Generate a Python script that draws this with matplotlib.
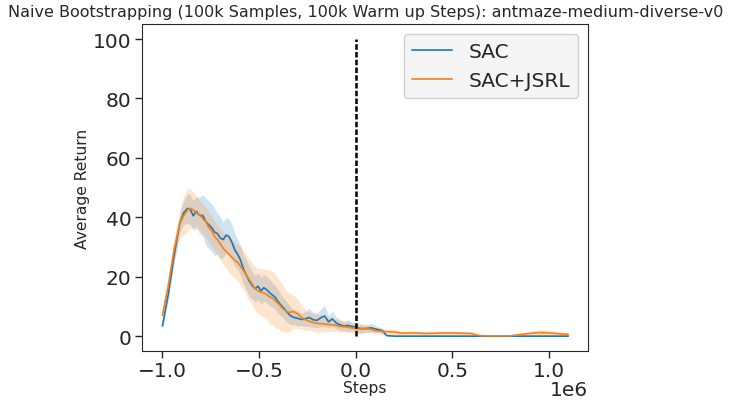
import numpy as np
import matplotlib
matplotlib.use("Agg")
import matplotlib.pyplot as plt

# steps in units of 1e6
steps = [-1.00, -0.97, -0.94, -0.91, -0.89, -0.87, -0.855, -0.84, -0.825, -0.81,
         -0.79, -0.775, -0.76, -0.745, -0.73, -0.715, -0.70, -0.685, -0.67, -0.655,
         -0.64, -0.625, -0.61, -0.595, -0.58, -0.565, -0.55, -0.535, -0.52, -0.505,
         -0.49, -0.475, -0.46, -0.445, -0.43, -0.415, -0.40, -0.38, -0.36, -0.34,
         -0.32, -0.30, -0.28, -0.26, -0.24, -0.22, -0.20, -0.18, -0.16, -0.14,
         -0.12, -0.10, -0.08, -0.06, -0.04, -0.02, 0.00, 0.02, 0.05, 0.08,
         0.11, 0.14, 0.16, 0.20, 0.24, 0.30, 0.36, 0.42, 0.48, 0.54,
         0.60, 0.64, 0.68, 0.74, 0.80, 0.86, 0.90, 0.95, 1.00, 1.05, 1.10]

sac_mean = [3.5, 14, 27, 38, 41.5, 43, 42.5, 40.5, 42, 40.8,
            40.5, 38.5, 37.5, 36.5, 35, 34.5, 33, 32.5, 34, 33.5,
            31.5, 29, 27.5, 25.5, 22.5, 20.5, 18.5, 17, 16, 16.8,
            15.2, 16.3, 15.6, 14.6, 13.8, 13, 11.5, 10, 8.5, 7,
            6.3, 6.0, 5.6, 5.8, 6.3, 5.5, 5.3, 6.2, 6.8, 4.8,
            5.8, 4.4, 3.8, 3.4, 3.6, 3.3, 3.0, 2.6, 2.5, 2.8,
            2.3, 1.8, 0.2, 0.0, 0.0, 0.0, 0.0, 0.0, 0.0, 0.0,
            0.0, 0.0, 0.0, 0.0, 0.0, 0.0, 0.0, 0.0, 0.0, 0.0, 0.0]
sac_std = [1.5, 2, 2.5, 3, 4, 5, 5, 5, 5, 6,
           7, 8, 8, 8, 8, 7, 7, 6, 6, 6,
           6, 5.5, 5, 5, 5, 5, 5, 4.5, 4.5, 4.5,
           4.5, 4.5, 4.5, 4.5, 4, 4, 4, 3.5, 3.5, 3,
           2.5, 2.5, 2, 2.5, 3, 2.5, 2.5, 3, 3.5, 2,
           2.5, 2, 1.8, 1.5, 2, 1.5, 1.5, 1.8, 1.2, 1.5,
           1.0, 0.8, 0.2, 0, 0, 0, 0, 0, 0, 0,
           0, 0, 0, 0, 0, 0, 0, 0, 0, 0, 0]

jsrl_mean = [7, 17, 29, 38, 40.5, 42.5, 43, 42.5, 41.5, 41,
             39.5, 38.5, 36.5, 35.5, 33.5, 32.5, 31, 29.5, 28.5, 27.5,
             26.5, 25.5, 24.8, 23.5, 22, 20.5, 19, 17.5, 16, 15.2,
             14.8, 14.5, 14, 13.2, 12.8, 11.8, 11, 9.5, 8.3, 8.0,
             8.3, 7.5, 6.3, 5.5, 5.0, 4.6, 4.3, 4.2, 4.1, 3.9,
             3.8, 3.6, 3.3, 3.2, 3.0, 2.8, 2.6, 2.4, 2.6, 2.3,
             1.8, 1.6, 1.5, 1.4, 1.0, 1.1, 0.9, 1.0, 1.1, 1.0,
             0.9, 0.2, 0.1, 0.1, 0.1, 0.6, 0.9, 1.2, 1.1, 0.8, 0.6]
jsrl_std = [1.5, 2.5, 4, 5, 6.5, 7, 6.5, 6, 5.5, 5,
            5, 5, 5, 5, 5, 5, 5.5, 5.5, 5.5, 6,
            6, 6, 6, 6.5, 6.5, 7, 7, 7, 7.5, 7.5,
            8, 8, 8.5, 9, 9, 9, 8.5, 8, 7, 6.5,
            5.5, 5, 4, 3.5, 3, 3, 3, 2.8, 2.5, 2.5,
            2.2, 2, 2, 1.8, 1.8, 1.6, 1.5, 1.3, 1.3, 1.0,
            1.0, 1.0, 1.0, 0.8, 0.6, 0.7, 0.6, 0.7, 0.6, 0.6,
            0.6, 0.2, 0.1, 0.1, 0.1, 0.5, 0.8, 1.0, 1.0, 0.8, 0.5]

TXT = "#262626"
plt.rcParams.update({
    "text.color": TXT, "axes.labelcolor": TXT,
    "xtick.color": TXT, "ytick.color": TXT,
    "axes.edgecolor": TXT,
})

fig = plt.figure(figsize=(7.29, 4.06), dpi=100)
ax = fig.add_axes([0.195, 0.133, 0.612, 0.805])

x = np.array(steps) * 1e6
for mean, std, c, lab in [(sac_mean, sac_std, "#1f77b4", "SAC"),
                          (jsrl_mean, jsrl_std, "#ff7f0e", "SAC+JSRL")]:
    m, s = np.array(mean), np.array(std)
    ax.plot(x, m, color=c, lw=1.2, label=lab)
    ax.fill_between(x, m - s, m + s, color=c, alpha=0.2, lw=0)

ax.vlines(0, 0, 100, colors="k", linestyles=(0, (2.2, 0.9)), lw=1.8)

ax.set_title("Naive Bootstrapping (100k Samples, 100k Warm up Steps): antmaze-medium-diverse-v0",
             fontsize=11.5)
ax.set_xlabel("Steps", fontsize=11.2, labelpad=0)
ax.set_ylabel("Average Return", fontsize=11.2, labelpad=2)
ax.tick_params(labelsize=14.5, length=5, width=1, pad=2.5)
ax.xaxis.get_offset_text().set_fontsize(14.5)
ax.xaxis.OFFSETTEXTPAD = 0
ax.set_yticks([0, 20, 40, 60, 80, 100])
leg = ax.legend(fontsize=14.5, loc="upper right", facecolor="#f5f5f5",
                edgecolor="#d0d0d0", framealpha=1)

fig.savefig("out.png", dpi=100)
